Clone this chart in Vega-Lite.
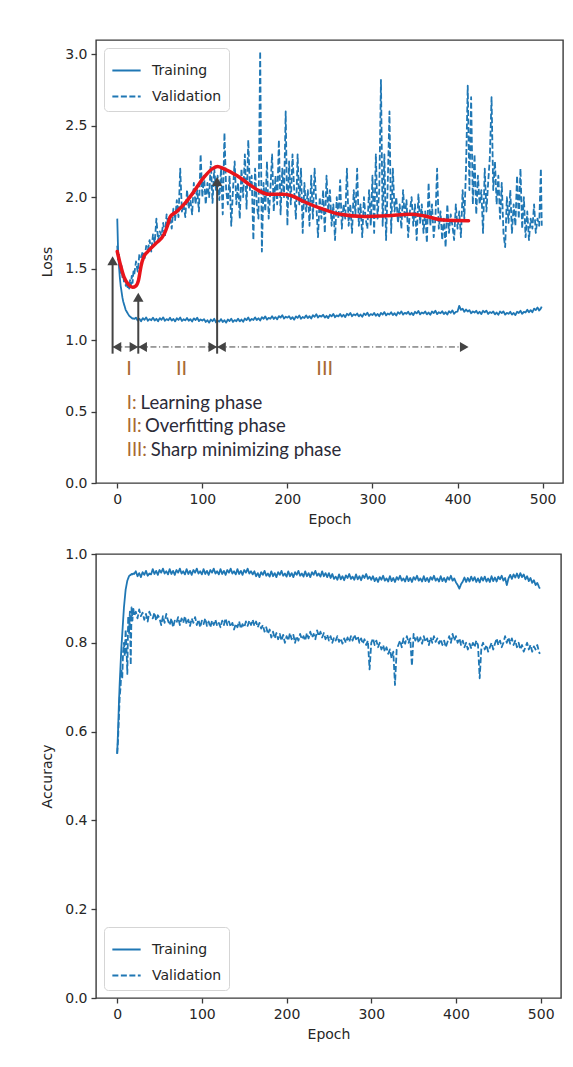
{
"$schema": "https://vega.github.io/schema/vega-lite/v6.json",
"background": "white",
"padding": {"left": 40, "top": 39, "right": 5, "bottom": 5},
"spacing": 19,
"config": {
 "view": {"stroke": "#3a3a3a", "strokeWidth": 1.4},
 "axis": {"domain": false, "grid": false, "tickSize": 5, "tickColor": "#3a3a3a", "tickWidth": 1.3, "labelFont": "DejaVu Sans", "labelFontSize": 14, "labelColor": "#262626", "titleFont": "DejaVu Sans", "titleFontSize": 14, "titleFontWeight": "normal", "titleColor": "#262626", "labelPadding": 4, "labelFlush": false, "labelOverlap": false},
 "axisY": {"titlePadding": 10},
 "axisX": {"titlePadding": 6},
 "legend": {"offset": 8, "fillColor": "white", "strokeColor": "#d5d5d5", "cornerRadius": 4, "padding": 7, "labelFont": "DejaVu Sans", "labelFontSize": 14, "labelColor": "#262626", "symbolType": "stroke", "symbolSize": 800, "symbolStrokeWidth": 1.8, "symbolStrokeColor": "#1f77b4", "labelOffset": 10, "rowPadding": 3}
},
"resolve": {"scale": {"strokeDash": "independent"}, "legend": {"strokeDash": "independent"}},
"datasets": {
 "loss": [
{"e":0,"Training":1.85,"Validation":1.66},{"e":1,"Training":1.62,"Validation":1.55},{"e":2,"Training":1.52,"Validation":1.61},{"e":3,"Training":1.44,"Validation":1.5},{"e":4,"Training":1.38,"Validation":1.47},{"e":5,"Training":1.34,"Validation":1.52},{"e":6,"Training":1.3,"Validation":1.44},{"e":7,"Training":1.27,"Validation":1.46},{"e":8,"Training":1.25,"Validation":1.4},{"e":9,"Training":1.23,"Validation":1.43},{"e":10,"Training":1.21,"Validation":1.38},{"e":11,"Training":1.2,"Validation":1.41},{"e":12,"Training":1.19,"Validation":1.37},{"e":13,"Training":1.18,"Validation":1.4},{"e":14,"Training":1.17,"Validation":1.36},{"e":15,"Training":1.165,"Validation":1.42},{"e":16,"Training":1.16,"Validation":1.38},{"e":17,"Training":1.155,"Validation":1.45},{"e":18,"Training":1.15,"Validation":1.4},{"e":19,"Training":1.152,"Validation":1.48},{"e":20,"Training":1.148,"Validation":1.46},
{"e":22,"Training":1.157,"Validation":1.55},{"e":24,"Training":1.137,"Validation":1.48},{"e":26,"Training":1.149,"Validation":1.6},{"e":28,"Training":1.132,"Validation":1.58},{"e":30,"Training":1.154,"Validation":1.62},{"e":32,"Training":1.142,"Validation":1.56},{"e":34,"Training":1.159,"Validation":1.66},{"e":36,"Training":1.135,"Validation":1.63},{"e":38,"Training":1.147,"Validation":1.7},{"e":40,"Training":1.139,"Validation":1.62},{"e":42,"Training":1.157,"Validation":1.74},{"e":44,"Training":1.137,"Validation":1.68},{"e":46,"Training":1.149,"Validation":1.85},{"e":48,"Training":1.132,"Validation":1.7},{"e":50,"Training":1.154,"Validation":1.76},{"e":52,"Training":1.142,"Validation":1.73},{"e":54,"Training":1.159,"Validation":1.82},{"e":56,"Training":1.135,"Validation":1.72},{"e":58,"Training":1.147,"Validation":1.88},{"e":60,"Training":1.139,"Validation":1.8},
{"e":62,"Training":1.156,"Validation":1.86},{"e":64,"Training":1.136,"Validation":1.78},{"e":66,"Training":1.148,"Validation":1.92},{"e":68,"Training":1.131,"Validation":1.84},{"e":70,"Training":1.153,"Validation":1.98},{"e":72,"Training":1.141,"Validation":1.86},{"e":74,"Training":1.158,"Validation":2.2},{"e":76,"Training":1.134,"Validation":1.9},{"e":78,"Training":1.146,"Validation":1.95},{"e":80,"Training":1.138,"Validation":1.86},{"e":82,"Training":1.155,"Validation":2.05},{"e":84,"Training":1.135,"Validation":1.92},{"e":86,"Training":1.147,"Validation":1.98},{"e":88,"Training":1.13,"Validation":1.88},{"e":90,"Training":1.152,"Validation":2.1},{"e":92,"Training":1.14,"Validation":1.95},{"e":94,"Training":1.157,"Validation":2.05},{"e":96,"Training":1.133,"Validation":1.9},{"e":98,"Training":1.145,"Validation":2.3},{"e":100,"Training":1.137,"Validation":2.0},
{"e":102,"Training":1.147,"Validation":2.15},{"e":104,"Training":1.127,"Validation":1.95},{"e":106,"Training":1.139,"Validation":2.1},{"e":108,"Training":1.122,"Validation":2.0},{"e":110,"Training":1.144,"Validation":2.25},{"e":112,"Training":1.132,"Validation":1.96},{"e":114,"Training":1.149,"Validation":2.2},{"e":116,"Training":1.125,"Validation":2.05},{"e":118,"Training":1.137,"Validation":2.15},{"e":120,"Training":1.129,"Validation":1.98},{"e":122,"Training":1.147,"Validation":2.2},{"e":124,"Training":1.127,"Validation":1.88},{"e":126,"Training":1.139,"Validation":2.45},{"e":128,"Training":1.122,"Validation":2.05},{"e":130,"Training":1.144,"Validation":1.95},{"e":132,"Training":1.133,"Validation":2.15},{"e":134,"Training":1.15,"Validation":1.8},{"e":136,"Training":1.127,"Validation":2.05},{"e":138,"Training":1.14,"Validation":2.25},{"e":140,"Training":1.132,"Validation":1.95},
{"e":142,"Training":1.15,"Validation":2.1},{"e":144,"Training":1.131,"Validation":1.85},{"e":146,"Training":1.144,"Validation":2.2},{"e":148,"Training":1.128,"Validation":2.0},{"e":150,"Training":1.151,"Validation":2.3},{"e":152,"Training":1.14,"Validation":1.92},{"e":154,"Training":1.158,"Validation":2.4},{"e":156,"Training":1.135,"Validation":2.05},{"e":158,"Training":1.148,"Validation":2.15},{"e":160,"Training":1.141,"Validation":1.7},{"e":162,"Training":1.159,"Validation":2.2},{"e":164,"Training":1.14,"Validation":1.95},{"e":166,"Training":1.153,"Validation":1.85},{"e":168,"Training":1.137,"Validation":3.02},{"e":170,"Training":1.16,"Validation":1.62},{"e":172,"Training":1.149,"Validation":2.1},{"e":174,"Training":1.166,"Validation":1.9},{"e":176,"Training":1.143,"Validation":2.25},{"e":178,"Training":1.156,"Validation":1.85},{"e":180,"Training":1.149,"Validation":2.05},
{"e":182,"Training":1.167,"Validation":2.3},{"e":184,"Training":1.148,"Validation":1.9},{"e":186,"Training":1.161,"Validation":2.15},{"e":188,"Training":1.145,"Validation":1.95},{"e":190,"Training":1.168,"Validation":2.4},{"e":192,"Training":1.157,"Validation":1.88},{"e":194,"Training":1.174,"Validation":2.2},{"e":196,"Training":1.151,"Validation":2.0},{"e":198,"Training":1.164,"Validation":2.6},{"e":200,"Training":1.157,"Validation":1.8},{"e":202,"Training":1.167,"Validation":2.25},{"e":204,"Training":1.147,"Validation":1.95},{"e":206,"Training":1.16,"Validation":2.3},{"e":208,"Training":1.143,"Validation":2.05},{"e":210,"Training":1.166,"Validation":1.85},{"e":212,"Training":1.155,"Validation":2.3},{"e":214,"Training":1.172,"Validation":1.95},{"e":216,"Training":1.149,"Validation":2.2},{"e":218,"Training":1.162,"Validation":1.75},{"e":220,"Training":1.155,"Validation":2.1},
{"e":222,"Training":1.173,"Validation":1.9},{"e":224,"Training":1.154,"Validation":2.05},{"e":226,"Training":1.167,"Validation":1.8},{"e":228,"Training":1.151,"Validation":2.15},{"e":230,"Training":1.174,"Validation":1.85},{"e":232,"Training":1.163,"Validation":2.2},{"e":234,"Training":1.181,"Validation":1.95},{"e":236,"Training":1.158,"Validation":1.72},{"e":238,"Training":1.171,"Validation":2.0},{"e":240,"Training":1.164,"Validation":1.85},{"e":242,"Training":1.177,"Validation":2.05},{"e":244,"Training":1.157,"Validation":1.75},{"e":246,"Training":1.17,"Validation":2.15},{"e":248,"Training":1.154,"Validation":1.9},{"e":250,"Training":1.177,"Validation":2.05},{"e":252,"Training":1.166,"Validation":1.8},{"e":254,"Training":1.183,"Validation":1.95},{"e":256,"Training":1.16,"Validation":1.7},{"e":258,"Training":1.173,"Validation":2.0},{"e":260,"Training":1.166,"Validation":1.85},
{"e":262,"Training":1.183,"Validation":2.12},{"e":264,"Training":1.164,"Validation":1.78},{"e":266,"Training":1.177,"Validation":1.95},{"e":268,"Training":1.161,"Validation":1.85},{"e":270,"Training":1.184,"Validation":2.2},{"e":272,"Training":1.173,"Validation":1.8},{"e":274,"Training":1.19,"Validation":1.95},{"e":276,"Training":1.167,"Validation":1.75},{"e":278,"Training":1.18,"Validation":2.05},{"e":280,"Training":1.173,"Validation":1.88},{"e":282,"Training":1.186,"Validation":2.2},{"e":284,"Training":1.166,"Validation":1.8},{"e":286,"Training":1.179,"Validation":1.95},{"e":288,"Training":1.163,"Validation":1.72},{"e":290,"Training":1.186,"Validation":2.0},{"e":292,"Training":1.175,"Validation":1.85},{"e":294,"Training":1.192,"Validation":1.78},{"e":296,"Training":1.169,"Validation":2.05},{"e":298,"Training":1.182,"Validation":1.8},{"e":300,"Training":1.175,"Validation":2.15},
{"e":302,"Training":1.19,"Validation":1.75},{"e":304,"Training":1.17,"Validation":2.3},{"e":306,"Training":1.183,"Validation":1.85},{"e":308,"Training":1.167,"Validation":2.05},{"e":310,"Training":1.19,"Validation":2.82},{"e":312,"Training":1.179,"Validation":1.8},{"e":314,"Training":1.196,"Validation":2.3},{"e":316,"Training":1.173,"Validation":1.7},{"e":318,"Training":1.186,"Validation":2.1},{"e":320,"Training":1.179,"Validation":2.6},{"e":322,"Training":1.195,"Validation":1.75},{"e":324,"Training":1.175,"Validation":2.2},{"e":326,"Training":1.188,"Validation":1.9},{"e":328,"Training":1.172,"Validation":2.0},{"e":330,"Training":1.195,"Validation":1.82},{"e":332,"Training":1.184,"Validation":1.95},{"e":334,"Training":1.201,"Validation":1.78},{"e":336,"Training":1.178,"Validation":2.05},{"e":338,"Training":1.191,"Validation":1.85},{"e":340,"Training":1.184,"Validation":1.98},
{"e":342,"Training":1.198,"Validation":1.72},{"e":344,"Training":1.178,"Validation":1.9},{"e":346,"Training":1.191,"Validation":2.0},{"e":348,"Training":1.175,"Validation":1.8},{"e":350,"Training":1.198,"Validation":1.95},{"e":352,"Training":1.187,"Validation":1.7},{"e":354,"Training":1.204,"Validation":2.02},{"e":356,"Training":1.18,"Validation":1.82},{"e":358,"Training":1.193,"Validation":1.95},{"e":360,"Training":1.186,"Validation":1.75},{"e":362,"Training":1.2,"Validation":1.9},{"e":364,"Training":1.18,"Validation":1.68},{"e":366,"Training":1.193,"Validation":2.1},{"e":368,"Training":1.177,"Validation":1.8},{"e":370,"Training":1.2,"Validation":1.95},{"e":372,"Training":1.189,"Validation":1.72},{"e":374,"Training":1.206,"Validation":1.85},{"e":376,"Training":1.182,"Validation":2.2},{"e":378,"Training":1.195,"Validation":1.78},{"e":380,"Training":1.188,"Validation":1.9},
{"e":382,"Training":1.202,"Validation":1.7},{"e":384,"Training":1.182,"Validation":1.85},{"e":386,"Training":1.195,"Validation":1.65},{"e":388,"Training":1.179,"Validation":1.95},{"e":390,"Training":1.202,"Validation":1.75},{"e":392,"Training":1.191,"Validation":1.88},{"e":394,"Training":1.208,"Validation":1.8},{"e":396,"Training":1.184,"Validation":1.7},{"e":398,"Training":1.197,"Validation":1.95},{"e":400,"Training":1.2,"Validation":1.78},{"e":402,"Training":1.24,"Validation":1.9},{"e":404,"Training":1.212,"Validation":1.72},{"e":406,"Training":1.22,"Validation":2.05},{"e":408,"Training":1.198,"Validation":1.85},{"e":410,"Training":1.214,"Validation":2.2},{"e":412,"Training":1.2,"Validation":2.78},{"e":414,"Training":1.21,"Validation":2.05},{"e":416,"Training":1.188,"Validation":2.7},{"e":418,"Training":1.201,"Validation":1.95},{"e":420,"Training":1.193,"Validation":2.3},
{"e":422,"Training":1.205,"Validation":1.88},{"e":424,"Training":1.185,"Validation":2.15},{"e":426,"Training":1.198,"Validation":1.95},{"e":428,"Training":1.182,"Validation":2.05},{"e":430,"Training":1.205,"Validation":1.75},{"e":432,"Training":1.194,"Validation":2.2},{"e":434,"Training":1.206,"Validation":1.9},{"e":436,"Training":1.183,"Validation":2.1},{"e":438,"Training":1.196,"Validation":2.28},{"e":440,"Training":1.189,"Validation":2.7},{"e":442,"Training":1.2,"Validation":2.05},{"e":444,"Training":1.18,"Validation":2.25},{"e":446,"Training":1.193,"Validation":1.95},{"e":448,"Training":1.177,"Validation":2.15},{"e":450,"Training":1.2,"Validation":1.85},{"e":452,"Training":1.189,"Validation":2.1},{"e":454,"Training":1.201,"Validation":1.75},{"e":456,"Training":1.178,"Validation":1.65},{"e":458,"Training":1.191,"Validation":2.0},{"e":460,"Training":1.184,"Validation":1.82},
{"e":462,"Training":1.198,"Validation":2.05},{"e":464,"Training":1.178,"Validation":1.75},{"e":466,"Training":1.19,"Validation":1.95},{"e":468,"Training":1.175,"Validation":1.8},{"e":470,"Training":1.198,"Validation":2.15},{"e":472,"Training":1.19,"Validation":1.85},{"e":474,"Training":1.205,"Validation":2.2},{"e":476,"Training":1.184,"Validation":1.78},{"e":478,"Training":1.198,"Validation":2.0},{"e":480,"Training":1.193,"Validation":1.72},{"e":482,"Training":1.212,"Validation":1.9},{"e":484,"Training":1.195,"Validation":1.7},{"e":486,"Training":1.21,"Validation":1.85},{"e":488,"Training":1.195,"Validation":1.78},{"e":490,"Training":1.22,"Validation":1.95},{"e":492,"Training":1.21,"Validation":1.75},{"e":494,"Training":1.228,"Validation":1.85},{"e":496,"Training":1.207,"Validation":1.8},{"e":498,"Training":1.222,"Validation":2.2},{"e":499,"Training":1.235,"Validation":1.8}
 ],
 "acc": [
{"e":0,"Training":0.55,"Validation":0.55},{"e":1,"Training":0.6,"Validation":0.58},{"e":2,"Training":0.66,"Validation":0.63},{"e":3,"Training":0.71,"Validation":0.68},{"e":4,"Training":0.75,"Validation":0.7},{"e":5,"Training":0.79,"Validation":0.74},{"e":6,"Training":0.82,"Validation":0.72},{"e":7,"Training":0.85,"Validation":0.78},{"e":8,"Training":0.88,"Validation":0.8},{"e":9,"Training":0.9,"Validation":0.77},{"e":10,"Training":0.92,"Validation":0.83},{"e":11,"Training":0.93,"Validation":0.79},{"e":12,"Training":0.94,"Validation":0.73},{"e":13,"Training":0.945,"Validation":0.86},{"e":14,"Training":0.95,"Validation":0.82},{"e":15,"Training":0.952,"Validation":0.87},{"e":16,"Training":0.953,"Validation":0.75},{"e":17,"Training":0.955,"Validation":0.88},{"e":18,"Training":0.954,"Validation":0.85},{"e":19,"Training":0.956,"Validation":0.88},{"e":20,"Training":0.955,"Validation":0.86},
{"e":22,"Training":0.961,"Validation":0.87},{"e":24,"Training":0.95,"Validation":0.855},{"e":26,"Training":0.957,"Validation":0.875},{"e":28,"Training":0.948,"Validation":0.86},{"e":30,"Training":0.959,"Validation":0.868},{"e":32,"Training":0.953,"Validation":0.852},{"e":34,"Training":0.962,"Validation":0.865},{"e":36,"Training":0.951,"Validation":0.848},{"e":38,"Training":0.956,"Validation":0.87},{"e":40,"Training":0.954,"Validation":0.86},{"e":42,"Training":0.966,"Validation":0.855},{"e":44,"Training":0.955,"Validation":0.868},{"e":46,"Training":0.962,"Validation":0.85},{"e":48,"Training":0.953,"Validation":0.862},{"e":50,"Training":0.964,"Validation":0.855},{"e":52,"Training":0.958,"Validation":0.84},{"e":54,"Training":0.967,"Validation":0.86},{"e":56,"Training":0.956,"Validation":0.845},{"e":58,"Training":0.961,"Validation":0.865},{"e":60,"Training":0.954,"Validation":0.85},
{"e":62,"Training":0.966,"Validation":0.84},{"e":64,"Training":0.955,"Validation":0.855},{"e":66,"Training":0.962,"Validation":0.835},{"e":68,"Training":0.953,"Validation":0.85},{"e":70,"Training":0.964,"Validation":0.845},{"e":72,"Training":0.958,"Validation":0.858},{"e":74,"Training":0.967,"Validation":0.84},{"e":76,"Training":0.956,"Validation":0.855},{"e":78,"Training":0.961,"Validation":0.845},{"e":80,"Training":0.954,"Validation":0.86},{"e":82,"Training":0.966,"Validation":0.842},{"e":84,"Training":0.955,"Validation":0.852},{"e":86,"Training":0.962,"Validation":0.838},{"e":88,"Training":0.953,"Validation":0.855},{"e":90,"Training":0.964,"Validation":0.845},{"e":92,"Training":0.958,"Validation":0.858},{"e":94,"Training":0.967,"Validation":0.84},{"e":96,"Training":0.956,"Validation":0.852},{"e":98,"Training":0.961,"Validation":0.835},{"e":100,"Training":0.954,"Validation":0.85},
{"e":102,"Training":0.966,"Validation":0.842},{"e":104,"Training":0.955,"Validation":0.855},{"e":106,"Training":0.962,"Validation":0.838},{"e":108,"Training":0.953,"Validation":0.848},{"e":110,"Training":0.964,"Validation":0.835},{"e":112,"Training":0.958,"Validation":0.85},{"e":114,"Training":0.967,"Validation":0.84},{"e":116,"Training":0.956,"Validation":0.852},{"e":118,"Training":0.961,"Validation":0.838},{"e":120,"Training":0.954,"Validation":0.845},{"e":122,"Training":0.966,"Validation":0.835},{"e":124,"Training":0.955,"Validation":0.85},{"e":126,"Training":0.962,"Validation":0.84},{"e":128,"Training":0.953,"Validation":0.855},{"e":130,"Training":0.964,"Validation":0.84},{"e":132,"Training":0.958,"Validation":0.848},{"e":134,"Training":0.967,"Validation":0.836},{"e":136,"Training":0.956,"Validation":0.845},{"e":138,"Training":0.961,"Validation":0.83},{"e":140,"Training":0.954,"Validation":0.843},
{"e":142,"Training":0.966,"Validation":0.835},{"e":144,"Training":0.955,"Validation":0.848},{"e":146,"Training":0.962,"Validation":0.832},{"e":148,"Training":0.953,"Validation":0.842},{"e":150,"Training":0.964,"Validation":0.835},{"e":152,"Training":0.958,"Validation":0.848},{"e":154,"Training":0.967,"Validation":0.838},{"e":156,"Training":0.956,"Validation":0.85},{"e":158,"Training":0.961,"Validation":0.84},{"e":160,"Training":0.954,"Validation":0.852},{"e":162,"Training":0.961,"Validation":0.838},{"e":164,"Training":0.95,"Validation":0.848},{"e":166,"Training":0.957,"Validation":0.835},{"e":168,"Training":0.948,"Validation":0.845},{"e":170,"Training":0.959,"Validation":0.832},{"e":172,"Training":0.953,"Validation":0.84},{"e":174,"Training":0.962,"Validation":0.825},{"e":176,"Training":0.951,"Validation":0.835},{"e":178,"Training":0.956,"Validation":0.82},{"e":180,"Training":0.949,"Validation":0.83},
{"e":182,"Training":0.961,"Validation":0.812},{"e":184,"Training":0.95,"Validation":0.825},{"e":186,"Training":0.957,"Validation":0.81},{"e":188,"Training":0.948,"Validation":0.822},{"e":190,"Training":0.959,"Validation":0.808},{"e":192,"Training":0.953,"Validation":0.82},{"e":194,"Training":0.962,"Validation":0.805},{"e":196,"Training":0.951,"Validation":0.818},{"e":198,"Training":0.956,"Validation":0.8},{"e":200,"Training":0.949,"Validation":0.815},{"e":202,"Training":0.961,"Validation":0.805},{"e":204,"Training":0.95,"Validation":0.822},{"e":206,"Training":0.957,"Validation":0.808},{"e":208,"Training":0.948,"Validation":0.818},{"e":210,"Training":0.959,"Validation":0.8},{"e":212,"Training":0.953,"Validation":0.815},{"e":214,"Training":0.962,"Validation":0.805},{"e":216,"Training":0.951,"Validation":0.82},{"e":218,"Training":0.956,"Validation":0.808},{"e":220,"Training":0.949,"Validation":0.815},
{"e":222,"Training":0.961,"Validation":0.805},{"e":224,"Training":0.95,"Validation":0.822},{"e":226,"Training":0.957,"Validation":0.81},{"e":228,"Training":0.948,"Validation":0.825},{"e":230,"Training":0.959,"Validation":0.812},{"e":232,"Training":0.953,"Validation":0.82},{"e":234,"Training":0.962,"Validation":0.808},{"e":236,"Training":0.951,"Validation":0.828},{"e":238,"Training":0.956,"Validation":0.815},{"e":240,"Training":0.949,"Validation":0.825},{"e":242,"Training":0.961,"Validation":0.812},{"e":244,"Training":0.95,"Validation":0.822},{"e":246,"Training":0.957,"Validation":0.808},{"e":248,"Training":0.948,"Validation":0.818},{"e":250,"Training":0.957,"Validation":0.805},{"e":252,"Training":0.946,"Validation":0.815},{"e":254,"Training":0.955,"Validation":0.8},{"e":256,"Training":0.944,"Validation":0.812},{"e":258,"Training":0.949,"Validation":0.805},{"e":260,"Training":0.942,"Validation":0.815},
{"e":262,"Training":0.954,"Validation":0.802},{"e":264,"Training":0.943,"Validation":0.81},{"e":266,"Training":0.95,"Validation":0.798},{"e":268,"Training":0.941,"Validation":0.81},{"e":270,"Training":0.952,"Validation":0.8},{"e":272,"Training":0.946,"Validation":0.812},{"e":274,"Training":0.955,"Validation":0.802},{"e":276,"Training":0.944,"Validation":0.815},{"e":278,"Training":0.949,"Validation":0.805},{"e":280,"Training":0.942,"Validation":0.818},{"e":282,"Training":0.954,"Validation":0.808},{"e":284,"Training":0.943,"Validation":0.815},{"e":286,"Training":0.95,"Validation":0.8},{"e":288,"Training":0.941,"Validation":0.81},{"e":290,"Training":0.952,"Validation":0.798},{"e":292,"Training":0.946,"Validation":0.808},{"e":294,"Training":0.955,"Validation":0.795},{"e":296,"Training":0.944,"Validation":0.805},{"e":298,"Training":0.949,"Validation":0.74},{"e":300,"Training":0.942,"Validation":0.8},
{"e":302,"Training":0.95,"Validation":0.81},{"e":304,"Training":0.939,"Validation":0.795},{"e":306,"Training":0.946,"Validation":0.805},{"e":308,"Training":0.937,"Validation":0.79},{"e":310,"Training":0.948,"Validation":0.8},{"e":312,"Training":0.942,"Validation":0.785},{"e":314,"Training":0.951,"Validation":0.795},{"e":316,"Training":0.94,"Validation":0.78},{"e":318,"Training":0.945,"Validation":0.79},{"e":320,"Training":0.938,"Validation":0.775},{"e":322,"Training":0.95,"Validation":0.785},{"e":324,"Training":0.939,"Validation":0.765},{"e":326,"Training":0.946,"Validation":0.78},{"e":328,"Training":0.937,"Validation":0.705},{"e":330,"Training":0.948,"Validation":0.785},{"e":332,"Training":0.942,"Validation":0.795},{"e":334,"Training":0.951,"Validation":0.805},{"e":336,"Training":0.94,"Validation":0.79},{"e":338,"Training":0.945,"Validation":0.81},{"e":340,"Training":0.938,"Validation":0.798},
{"e":342,"Training":0.95,"Validation":0.815},{"e":344,"Training":0.939,"Validation":0.8},{"e":346,"Training":0.946,"Validation":0.81},{"e":348,"Training":0.937,"Validation":0.748},{"e":350,"Training":0.948,"Validation":0.82},{"e":352,"Training":0.942,"Validation":0.805},{"e":354,"Training":0.951,"Validation":0.815},{"e":356,"Training":0.94,"Validation":0.8},{"e":358,"Training":0.945,"Validation":0.812},{"e":360,"Training":0.938,"Validation":0.798},{"e":362,"Training":0.95,"Validation":0.815},{"e":364,"Training":0.939,"Validation":0.802},{"e":366,"Training":0.946,"Validation":0.81},{"e":368,"Training":0.937,"Validation":0.795},{"e":370,"Training":0.948,"Validation":0.812},{"e":372,"Training":0.942,"Validation":0.8},{"e":374,"Training":0.951,"Validation":0.815},{"e":376,"Training":0.94,"Validation":0.802},{"e":378,"Training":0.945,"Validation":0.81},{"e":380,"Training":0.938,"Validation":0.798},
{"e":382,"Training":0.95,"Validation":0.808},{"e":384,"Training":0.939,"Validation":0.795},{"e":386,"Training":0.946,"Validation":0.805},{"e":388,"Training":0.937,"Validation":0.79},{"e":390,"Training":0.948,"Validation":0.802},{"e":392,"Training":0.942,"Validation":0.815},{"e":394,"Training":0.951,"Validation":0.8},{"e":396,"Training":0.94,"Validation":0.82},{"e":398,"Training":0.945,"Validation":0.805},{"e":400,"Training":0.936,"Validation":0.815},{"e":402,"Training":0.93,"Validation":0.8},{"e":404,"Training":0.922,"Validation":0.81},{"e":406,"Training":0.932,"Validation":0.795},{"e":408,"Training":0.938,"Validation":0.805},{"e":410,"Training":0.947,"Validation":0.79},{"e":412,"Training":0.937,"Validation":0.8},{"e":414,"Training":0.946,"Validation":0.785},{"e":416,"Training":0.938,"Validation":0.798},{"e":418,"Training":0.949,"Validation":0.788},{"e":420,"Training":0.94,"Validation":0.8},
{"e":422,"Training":0.948,"Validation":0.79},{"e":424,"Training":0.937,"Validation":0.805},{"e":426,"Training":0.945,"Validation":0.795},{"e":428,"Training":0.936,"Validation":0.72},{"e":430,"Training":0.948,"Validation":0.79},{"e":432,"Training":0.94,"Validation":0.8},{"e":434,"Training":0.949,"Validation":0.785},{"e":436,"Training":0.938,"Validation":0.795},{"e":438,"Training":0.945,"Validation":0.78},{"e":440,"Training":0.937,"Validation":0.79},{"e":442,"Training":0.95,"Validation":0.8},{"e":444,"Training":0.939,"Validation":0.785},{"e":446,"Training":0.947,"Validation":0.798},{"e":448,"Training":0.938,"Validation":0.81},{"e":450,"Training":0.949,"Validation":0.795},{"e":452,"Training":0.943,"Validation":0.805},{"e":454,"Training":0.951,"Validation":0.79},{"e":456,"Training":0.94,"Validation":0.8},{"e":458,"Training":0.946,"Validation":0.815},{"e":460,"Training":0.93,"Validation":0.8},
{"e":462,"Training":0.945,"Validation":0.812},{"e":464,"Training":0.953,"Validation":0.798},{"e":466,"Training":0.944,"Validation":0.81},{"e":468,"Training":0.954,"Validation":0.795},{"e":470,"Training":0.947,"Validation":0.805},{"e":472,"Training":0.956,"Validation":0.79},{"e":474,"Training":0.946,"Validation":0.8},{"e":476,"Training":0.957,"Validation":0.785},{"e":478,"Training":0.948,"Validation":0.795},{"e":480,"Training":0.954,"Validation":0.78},{"e":482,"Training":0.943,"Validation":0.79},{"e":484,"Training":0.95,"Validation":0.8},{"e":486,"Training":0.939,"Validation":0.785},{"e":488,"Training":0.946,"Validation":0.795},{"e":490,"Training":0.935,"Validation":0.78},{"e":492,"Training":0.941,"Validation":0.792},{"e":494,"Training":0.93,"Validation":0.785},{"e":496,"Training":0.935,"Validation":0.795},{"e":498,"Training":0.926,"Validation":0.78},{"e":499,"Training":0.922,"Validation":0.775}
 ],
 "red": [
{"e":0,"v":1.62},{"e":4,"v":1.52},{"e":8,"v":1.44},{"e":13,"v":1.39},{"e":18,"v":1.37},{"e":22,"v":1.38},{"e":25,"v":1.42},{"e":28,"v":1.52},{"e":31,"v":1.58},{"e":36,"v":1.62},{"e":46,"v":1.68},{"e":55,"v":1.74},{"e":59,"v":1.8},{"e":62,"v":1.86},{"e":70,"v":1.9},{"e":80,"v":1.96},{"e":89,"v":2.03},{"e":102,"v":2.14},{"e":112,"v":2.2},{"e":118,"v":2.215},{"e":125,"v":2.2},{"e":141,"v":2.15},{"e":155,"v":2.09},{"e":165,"v":2.05},{"e":178,"v":2.02},{"e":195,"v":2.02},{"e":205,"v":2.01},{"e":219,"v":1.97},{"e":240,"v":1.92},{"e":262,"v":1.88},{"e":290,"v":1.865},{"e":318,"v":1.87},{"e":344,"v":1.88},{"e":360,"v":1.87},{"e":383,"v":1.84},{"e":413,"v":1.835}
 ],
 "varrow": [
{"e":-5.5,"lo":0.905,"hc":1.555},{"e":24.7,"lo":0.905,"hc":1.3},{"e":117.4,"lo":0.905,"hc":2.11}
 ],
 "hseg": [
{"a":-5.5,"b":24.7,"y":0.952},{"a":24.7,"b":117.4,"y":0.952},{"a":117.4,"b":413,"y":0.952}
 ],
 "lhead": [{"e":-0.4,"y":0.952},{"e":29.8,"y":0.952},{"e":122.5,"y":0.952}],
 "rhead": [{"e":19.6,"y":0.952},{"e":112.3,"y":0.952},{"e":407.9,"y":0.952}],
 "phases": [{"e":13.9,"v":0.8,"t":"I"},{"e":75.6,"v":0.8,"t":"II"},{"e":243.9,"v":0.8,"t":"III"}],
 "desc": [
{"e":11.1,"e2":27.4,"v":0.56,"n":"I:","t":"Learning phase"},
{"e":11.1,"e2":32.6,"v":0.402,"n":"II:","t":"Overfitting phase"},
{"e":11.1,"e2":39.5,"v":0.229,"n":"III:","t":"Sharp minimizing phase"}
 ]
},
"vconcat": [
 {
  "width": 467, "height": 443,
  "layer": [
   {
    "data": {"name": "loss"},
    "transform": [{"fold": ["Training", "Validation"], "as": ["s", "v"]}],
    "mark": {"type": "line", "color": "#1f77b4", "strokeWidth": 1.8, "strokeJoin": "round"},
    "encoding": {
     "x": {"field": "e", "type": "quantitative", "scale": {"domain": [-25, 524], "nice": false, "zero": false}, "axis": {"values": [0, 100, 200, 300, 400, 500], "title": "Epoch"}},
     "y": {"field": "v", "type": "quantitative", "scale": {"domain": [0, 3.1], "nice": false}, "axis": {"values": [0, 0.5, 1, 1.5, 2, 2.5, 3], "format": ".1f", "title": "Loss"}},
     "strokeDash": {"field": "s", "type": "nominal", "scale": {"domain": ["Training", "Validation"], "range": [[1, 0], [6, 2.5]]}, "legend": {"orient": "top-left", "title": null}}
    }
   },
   {
    "data": {"name": "red"},
    "mark": {"type": "line", "color": "#e8141b", "strokeWidth": 3.5, "interpolate": "monotone", "strokeCap": "round"},
    "encoding": {"x": {"field": "e", "type": "quantitative"}, "y": {"field": "v", "type": "quantitative"}}
   },
   {
    "data": {"name": "varrow"},
    "mark": {"type": "rule", "color": "#444", "strokeWidth": 2},
    "encoding": {"x": {"field": "e", "type": "quantitative"}, "y": {"field": "lo", "type": "quantitative"}, "y2": {"field": "hc"}}
   },
   {
    "data": {"name": "varrow"},
    "mark": {"type": "point", "shape": "triangle-up", "filled": true, "color": "#444", "opacity": 1, "size": 110},
    "encoding": {"x": {"field": "e", "type": "quantitative"}, "y": {"field": "hc", "type": "quantitative"}}
   },
   {
    "data": {"name": "hseg"},
    "mark": {"type": "rule", "color": "#444", "strokeWidth": 1, "strokeDash": [6, 2.5, 1.2, 2.5]},
    "encoding": {"x": {"field": "a", "type": "quantitative"}, "x2": {"field": "b"}, "y": {"field": "y", "type": "quantitative"}}
   },
   {
    "data": {"name": "lhead"},
    "mark": {"type": "point", "shape": "triangle-left", "filled": true, "color": "#444", "opacity": 1, "size": 100},
    "encoding": {"x": {"field": "e", "type": "quantitative"}, "y": {"field": "y", "type": "quantitative"}}
   },
   {
    "data": {"name": "rhead"},
    "mark": {"type": "point", "shape": "triangle-right", "filled": true, "color": "#444", "opacity": 1, "size": 100},
    "encoding": {"x": {"field": "e", "type": "quantitative"}, "y": {"field": "y", "type": "quantitative"}}
   },
   {
    "data": {"name": "phases"},
    "mark": {"type": "text", "font": "Lato", "fontSize": 20, "color": "#a86a32"},
    "encoding": {"x": {"field": "e", "type": "quantitative"}, "y": {"field": "v", "type": "quantitative"}, "text": {"field": "t"}}
   },
   {
    "data": {"name": "desc"},
    "mark": {"type": "text", "font": "Lato", "fontSize": 18.5, "align": "left", "baseline": "middle", "color": "#a86a32"},
    "encoding": {"x": {"field": "e", "type": "quantitative"}, "y": {"field": "v", "type": "quantitative"}, "text": {"field": "n"}}
   },
   {
    "data": {"name": "desc"},
    "mark": {"type": "text", "font": "Lato", "fontSize": 18.5, "align": "left", "baseline": "middle", "color": "#2b2b38"},
    "encoding": {"x": {"field": "e2", "type": "quantitative"}, "y": {"field": "v", "type": "quantitative"}, "text": {"field": "t"}}
   }
  ]
 },
 {
  "width": 465, "height": 444,
  "data": {"name": "acc"},
  "transform": [{"fold": ["Training", "Validation"], "as": ["s", "v"]}],
  "mark": {"type": "line", "color": "#1f77b4", "strokeWidth": 1.8, "strokeJoin": "round"},
  "encoding": {
   "x": {"field": "e", "type": "quantitative", "scale": {"domain": [-25, 524], "nice": false, "zero": false}, "axis": {"values": [0, 100, 200, 300, 400, 500], "title": "Epoch"}},
   "y": {"field": "v", "type": "quantitative", "scale": {"domain": [0, 1], "nice": false}, "axis": {"values": [0, 0.2, 0.4, 0.6, 0.8, 1], "format": ".1f", "title": "Accuracy"}},
   "strokeDash": {"field": "s", "type": "nominal", "scale": {"domain": ["Training", "Validation"], "range": [[1, 0], [6, 2.5]]}, "legend": {"orient": "bottom-left", "title": null}}
  }
 }
]
}
